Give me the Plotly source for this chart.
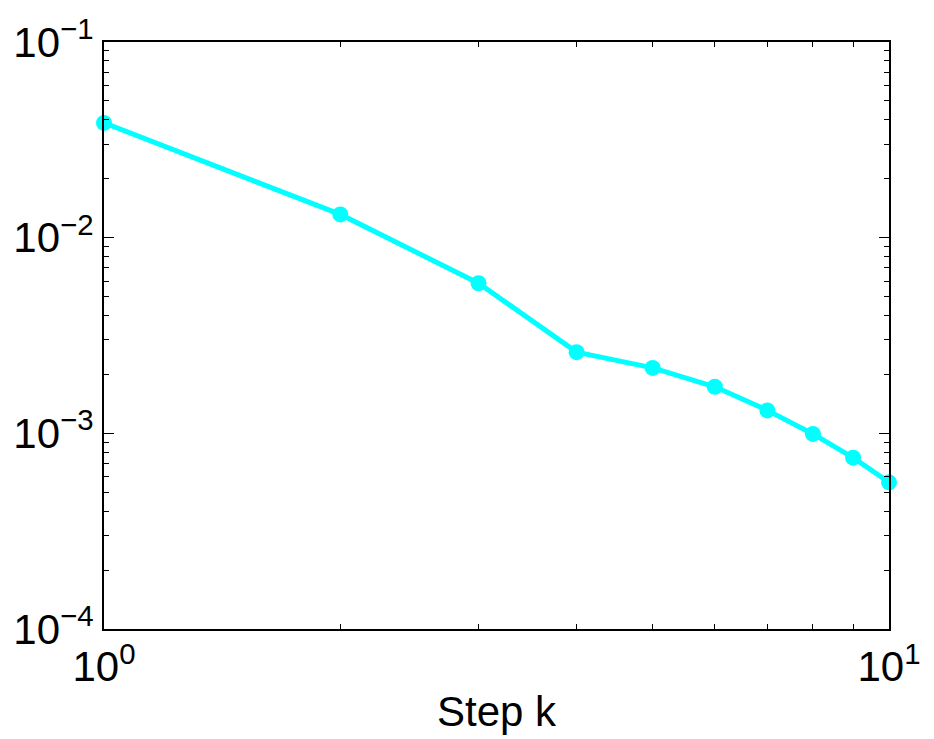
import plotly.graph_objects as go

steps = [1, 2, 3, 4, 5, 6, 7, 8, 9, 10]
errors = [0.0386, 0.01315, 0.00585, 0.0026, 0.00216, 0.00173, 0.00131, 0.000993, 0.000751, 0.000562]

x_tickvals = [1, 10]
x_ticktext = ["10<sup>0</sup>", "10<sup>1</sup>"]
y_tickvals = [1e-4, 1e-3, 1e-2, 1e-1]
y_ticktext = ["10<sup>−4</sup>", "10<sup>−3</sup>", "10<sup>−2</sup>", "10<sup>−1</sup>"]

fig = go.Figure()
fig.add_trace(go.Scatter(
    x=steps, y=errors, mode="lines+markers",
    line=dict(color="#00FFFF", width=5),
    marker=dict(color="#00FFFF", size=16),
    cliponaxis=False,
))

font = dict(family="Liberation Sans, Arial, sans-serif", size=42, color="black")

fig.update_layout(
    width=934, height=739,
    margin=dict(l=104, r=45, t=37, b=106),
    paper_bgcolor="white", plot_bgcolor="white",
    showlegend=False,
    font=font,
)
fig.update_xaxes(
    type="log", range=[0, 1],
    tickvals=x_tickvals, ticktext=x_ticktext,
    ticks="inside", ticklen=10, tickwidth=1, tickcolor="black",
    showline=True, linecolor="black", linewidth=2, mirror="allticks",
    showgrid=False, zeroline=False,
    minor=dict(ticks="inside", ticklen=5, tickcolor="black", tickvals=[2,3,4,5,6,7,8,9], showgrid=False),
    title=dict(text="Step k", font=dict(size=42), standoff=7),
    tickfont=dict(size=42),
)
fig.update_yaxes(
    type="log", range=[-4, -1],
    tickvals=y_tickvals, ticktext=y_ticktext,
    ticks="inside", ticklen=10, tickwidth=1, tickcolor="black",
    showline=True, linecolor="black", linewidth=2, mirror="allticks",
    showgrid=False, zeroline=False,
    minor=dict(ticks="inside", ticklen=5, tickcolor="black",
               tickvals=[m * 10.0**e for e in (-4, -3, -2) for m in range(2, 10)], showgrid=False),
    tickfont=dict(size=42),
)

fig.write_html("out.html")
